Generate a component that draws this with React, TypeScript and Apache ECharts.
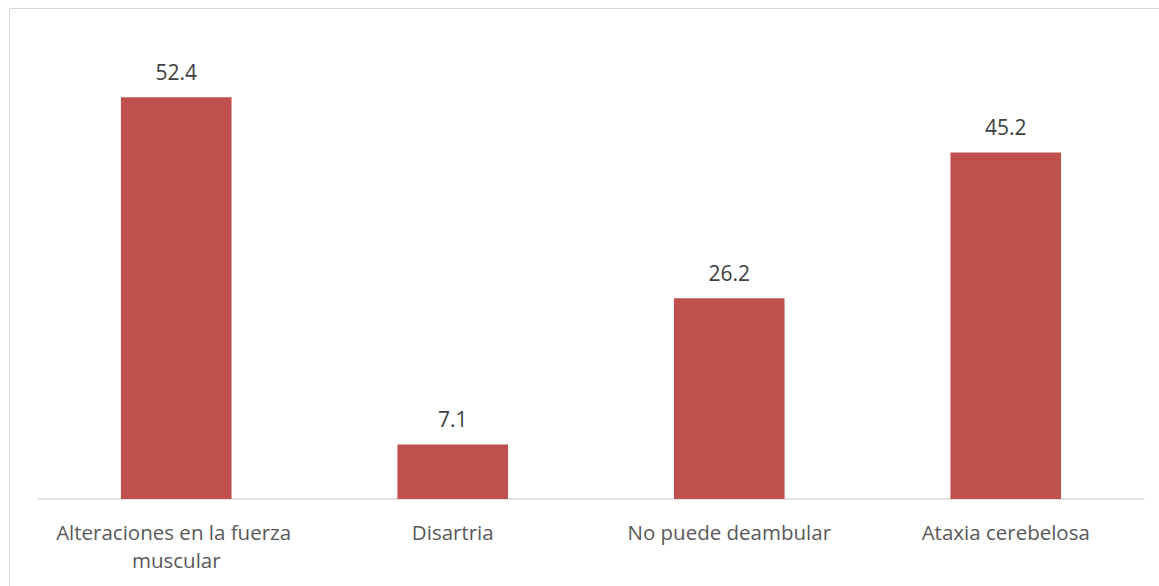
import React, { useEffect, useRef } from "react";
import * as echarts from "echarts";

const categories = [
  "Alteraciones en la fuerza muscular",
  "Disartria",
  "No puede deambular",
  "Ataxia cerebelosa",
];
const values = [52.4, 7.1, 26.2, 45.2];

export default function App() {
  const ref = useRef<HTMLDivElement>(null);
  useEffect(() => {
    if (!ref.current) return;
    const chart = echarts.init(ref.current, null, { renderer: "svg" });
    chart.setOption({
      animation: false,
      backgroundColor: "#ffffff",
      graphic: [
        {
          type: "rect",
          shape: { x: 9.5, y: 8.5, width: 1160, height: 600 },
          style: { fill: "none", stroke: "#d9d9d9", lineWidth: 1 },
          silent: true,
        },
      ],
      grid: { left: 38, right: 15, top: 39, bottom: 87 },
      xAxis: {
        type: "category",
        data: categories,
        axisLine: { show: true, lineStyle: { color: "#d9d9d9", width: 1.5 } },
        axisTick: { show: false },
        axisLabel: {
          color: "#595959",
          fontFamily: "Open Sans",
          fontSize: 20.5,
          margin: 19,
          lineHeight: 28,
          width: 262,
          overflow: "break",
          interval: 0,
        },
      },
      yAxis: {
        type: "value",
        min: 0,
        max: 60,
        show: false,
        splitLine: { show: false },
      },
      series: [
        {
          type: "bar",
          data: values,
          barWidth: "40%",
          itemStyle: { color: "#c0504d" },
          label: {
            show: true,
            position: "top",
            distance: 15,
            color: "#404040",
            fontFamily: "Open Sans",
            fontSize: 21,
            formatter: (p: any) => p.value.toFixed(1),
          },
        },
      ],
    });
    return () => chart.dispose();
  }, []);
  return (
    <div
      ref={ref}
      style={{ position: "fixed", left: 0, top: 0, width: 1159, height: 586 }}
    />
  );
}
